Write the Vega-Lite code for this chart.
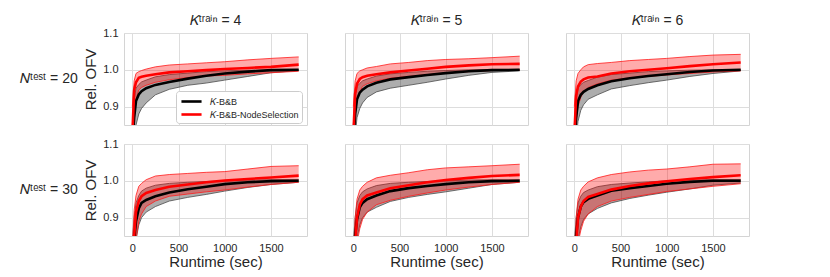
{
"$schema": "https://vega.github.io/schema/vega-lite/v6.json",
"padding": {"left": 20, "top": 14, "right": 5, "bottom": 5},
"background": "white",
"data": {"values": [
{"ntest":20,"ktrain":4,"method":"K-B&B","time":0,"mean":0.80,"lower":0.75,"upper":0.85},
{"ntest":20,"ktrain":4,"method":"K-B&B","time":20,"mean":0.87,"lower":0.80,"upper":0.92},
{"ntest":20,"ktrain":4,"method":"K-B&B","time":40,"mean":0.915,"lower":0.85,"upper":0.95},
{"ntest":20,"ktrain":4,"method":"K-B&B","time":70,"mean":0.933,"lower":0.88,"upper":0.96},
{"ntest":20,"ktrain":4,"method":"K-B&B","time":100,"mean":0.942,"lower":0.895,"upper":0.967},
{"ntest":20,"ktrain":4,"method":"K-B&B","time":150,"mean":0.95,"lower":0.91,"upper":0.972},
{"ntest":20,"ktrain":4,"method":"K-B&B","time":250,"mean":0.959,"lower":0.932,"upper":0.981},
{"ntest":20,"ktrain":4,"method":"K-B&B","time":400,"mean":0.967,"lower":0.947,"upper":0.987},
{"ntest":20,"ktrain":4,"method":"K-B&B","time":600,"mean":0.976,"lower":0.958,"upper":0.991},
{"ntest":20,"ktrain":4,"method":"K-B&B","time":800,"mean":0.984,"lower":0.964,"upper":0.995},
{"ntest":20,"ktrain":4,"method":"K-B&B","time":1000,"mean":0.99,"lower":0.972,"upper":0.997},
{"ntest":20,"ktrain":4,"method":"K-B&B","time":1250,"mean":0.995,"lower":0.982,"upper":0.999},
{"ntest":20,"ktrain":4,"method":"K-B&B","time":1500,"mean":0.999,"lower":0.992,"upper":1.0},
{"ntest":20,"ktrain":4,"method":"K-B&B","time":1800,"mean":1.0,"lower":0.998,"upper":1.0},
{"ntest":20,"ktrain":4,"method":"K-B&B-NodeSelection","time":0,"mean":0.82,"lower":0.76,"upper":0.90},
{"ntest":20,"ktrain":4,"method":"K-B&B-NodeSelection","time":20,"mean":0.945,"lower":0.88,"upper":0.97},
{"ntest":20,"ktrain":4,"method":"K-B&B-NodeSelection","time":40,"mean":0.966,"lower":0.92,"upper":0.99},
{"ntest":20,"ktrain":4,"method":"K-B&B-NodeSelection","time":70,"mean":0.978,"lower":0.945,"upper":0.995},
{"ntest":20,"ktrain":4,"method":"K-B&B-NodeSelection","time":100,"mean":0.981,"lower":0.952,"upper":0.998},
{"ntest":20,"ktrain":4,"method":"K-B&B-NodeSelection","time":150,"mean":0.984,"lower":0.958,"upper":1.002},
{"ntest":20,"ktrain":4,"method":"K-B&B-NodeSelection","time":250,"mean":0.988,"lower":0.966,"upper":1.008},
{"ntest":20,"ktrain":4,"method":"K-B&B-NodeSelection","time":400,"mean":0.993,"lower":0.973,"upper":1.013},
{"ntest":20,"ktrain":4,"method":"K-B&B-NodeSelection","time":600,"mean":0.996,"lower":0.979,"upper":1.016},
{"ntest":20,"ktrain":4,"method":"K-B&B-NodeSelection","time":800,"mean":0.999,"lower":0.983,"upper":1.019},
{"ntest":20,"ktrain":4,"method":"K-B&B-NodeSelection","time":1000,"mean":1.002,"lower":0.985,"upper":1.022},
{"ntest":20,"ktrain":4,"method":"K-B&B-NodeSelection","time":1250,"mean":1.005,"lower":0.989,"upper":1.027},
{"ntest":20,"ktrain":4,"method":"K-B&B-NodeSelection","time":1500,"mean":1.008,"lower":0.992,"upper":1.031},
{"ntest":20,"ktrain":4,"method":"K-B&B-NodeSelection","time":1800,"mean":1.014,"lower":0.996,"upper":1.035},

{"ntest":20,"ktrain":5,"method":"K-B&B","time":0,"mean":0.80,"lower":0.75,"upper":0.85},
{"ntest":20,"ktrain":5,"method":"K-B&B","time":20,"mean":0.88,"lower":0.82,"upper":0.93},
{"ntest":20,"ktrain":5,"method":"K-B&B","time":40,"mean":0.92,"lower":0.87,"upper":0.955},
{"ntest":20,"ktrain":5,"method":"K-B&B","time":70,"mean":0.938,"lower":0.895,"upper":0.963},
{"ntest":20,"ktrain":5,"method":"K-B&B","time":100,"mean":0.946,"lower":0.91,"upper":0.97},
{"ntest":20,"ktrain":5,"method":"K-B&B","time":150,"mean":0.955,"lower":0.925,"upper":0.975},
{"ntest":20,"ktrain":5,"method":"K-B&B","time":250,"mean":0.965,"lower":0.94,"upper":0.983},
{"ntest":20,"ktrain":5,"method":"K-B&B","time":400,"mean":0.974,"lower":0.95,"upper":0.989},
{"ntest":20,"ktrain":5,"method":"K-B&B","time":600,"mean":0.98,"lower":0.958,"upper":0.993},
{"ntest":20,"ktrain":5,"method":"K-B&B","time":800,"mean":0.986,"lower":0.966,"upper":0.996},
{"ntest":20,"ktrain":5,"method":"K-B&B","time":1000,"mean":0.991,"lower":0.975,"upper":0.998},
{"ntest":20,"ktrain":5,"method":"K-B&B","time":1250,"mean":0.996,"lower":0.985,"upper":1.0},
{"ntest":20,"ktrain":5,"method":"K-B&B","time":1500,"mean":0.999,"lower":0.993,"upper":1.001},
{"ntest":20,"ktrain":5,"method":"K-B&B","time":1800,"mean":1.0,"lower":0.997,"upper":1.001},
{"ntest":20,"ktrain":5,"method":"K-B&B-NodeSelection","time":0,"mean":0.82,"lower":0.76,"upper":0.90},
{"ntest":20,"ktrain":5,"method":"K-B&B-NodeSelection","time":20,"mean":0.935,"lower":0.88,"upper":0.97},
{"ntest":20,"ktrain":5,"method":"K-B&B-NodeSelection","time":40,"mean":0.962,"lower":0.92,"upper":0.99},
{"ntest":20,"ktrain":5,"method":"K-B&B-NodeSelection","time":70,"mean":0.975,"lower":0.94,"upper":0.997},
{"ntest":20,"ktrain":5,"method":"K-B&B-NodeSelection","time":100,"mean":0.98,"lower":0.955,"upper":1.0},
{"ntest":20,"ktrain":5,"method":"K-B&B-NodeSelection","time":150,"mean":0.984,"lower":0.962,"upper":1.005},
{"ntest":20,"ktrain":5,"method":"K-B&B-NodeSelection","time":250,"mean":0.988,"lower":0.97,"upper":1.009},
{"ntest":20,"ktrain":5,"method":"K-B&B-NodeSelection","time":400,"mean":0.993,"lower":0.977,"upper":1.016},
{"ntest":20,"ktrain":5,"method":"K-B&B-NodeSelection","time":600,"mean":0.998,"lower":0.982,"upper":1.02},
{"ntest":20,"ktrain":5,"method":"K-B&B-NodeSelection","time":800,"mean":1.003,"lower":0.987,"upper":1.025},
{"ntest":20,"ktrain":5,"method":"K-B&B-NodeSelection","time":1000,"mean":1.008,"lower":0.991,"upper":1.028},
{"ntest":20,"ktrain":5,"method":"K-B&B-NodeSelection","time":1250,"mean":1.012,"lower":0.995,"upper":1.03},
{"ntest":20,"ktrain":5,"method":"K-B&B-NodeSelection","time":1500,"mean":1.015,"lower":0.998,"upper":1.033},
{"ntest":20,"ktrain":5,"method":"K-B&B-NodeSelection","time":1800,"mean":1.016,"lower":0.999,"upper":1.037},

{"ntest":20,"ktrain":6,"method":"K-B&B","time":0,"mean":0.80,"lower":0.75,"upper":0.85},
{"ntest":20,"ktrain":6,"method":"K-B&B","time":20,"mean":0.87,"lower":0.81,"upper":0.92},
{"ntest":20,"ktrain":6,"method":"K-B&B","time":40,"mean":0.915,"lower":0.86,"upper":0.95},
{"ntest":20,"ktrain":6,"method":"K-B&B","time":70,"mean":0.932,"lower":0.89,"upper":0.96},
{"ntest":20,"ktrain":6,"method":"K-B&B","time":100,"mean":0.94,"lower":0.905,"upper":0.966},
{"ntest":20,"ktrain":6,"method":"K-B&B","time":150,"mean":0.948,"lower":0.92,"upper":0.971},
{"ntest":20,"ktrain":6,"method":"K-B&B","time":250,"mean":0.958,"lower":0.932,"upper":0.98},
{"ntest":20,"ktrain":6,"method":"K-B&B","time":400,"mean":0.969,"lower":0.948,"upper":0.987},
{"ntest":20,"ktrain":6,"method":"K-B&B","time":600,"mean":0.977,"lower":0.957,"upper":0.991},
{"ntest":20,"ktrain":6,"method":"K-B&B","time":800,"mean":0.983,"lower":0.965,"upper":0.995},
{"ntest":20,"ktrain":6,"method":"K-B&B","time":1000,"mean":0.988,"lower":0.972,"upper":0.997},
{"ntest":20,"ktrain":6,"method":"K-B&B","time":1250,"mean":0.994,"lower":0.982,"upper":0.999},
{"ntest":20,"ktrain":6,"method":"K-B&B","time":1500,"mean":0.998,"lower":0.99,"upper":1.0},
{"ntest":20,"ktrain":6,"method":"K-B&B","time":1800,"mean":1.0,"lower":0.997,"upper":1.0},
{"ntest":20,"ktrain":6,"method":"K-B&B-NodeSelection","time":0,"mean":0.82,"lower":0.76,"upper":0.90},
{"ntest":20,"ktrain":6,"method":"K-B&B-NodeSelection","time":20,"mean":0.93,"lower":0.86,"upper":0.97},
{"ntest":20,"ktrain":6,"method":"K-B&B-NodeSelection","time":40,"mean":0.955,"lower":0.90,"upper":0.99},
{"ntest":20,"ktrain":6,"method":"K-B&B-NodeSelection","time":70,"mean":0.968,"lower":0.925,"upper":1.0},
{"ntest":20,"ktrain":6,"method":"K-B&B-NodeSelection","time":100,"mean":0.974,"lower":0.94,"upper":1.008},
{"ntest":20,"ktrain":6,"method":"K-B&B-NodeSelection","time":150,"mean":0.979,"lower":0.952,"upper":1.014},
{"ntest":20,"ktrain":6,"method":"K-B&B-NodeSelection","time":250,"mean":0.982,"lower":0.962,"upper":1.017},
{"ntest":20,"ktrain":6,"method":"K-B&B-NodeSelection","time":400,"mean":0.99,"lower":0.972,"upper":1.02},
{"ntest":20,"ktrain":6,"method":"K-B&B-NodeSelection","time":600,"mean":0.996,"lower":0.978,"upper":1.025},
{"ntest":20,"ktrain":6,"method":"K-B&B-NodeSelection","time":800,"mean":1.0,"lower":0.982,"upper":1.028},
{"ntest":20,"ktrain":6,"method":"K-B&B-NodeSelection","time":1000,"mean":1.004,"lower":0.986,"upper":1.031},
{"ntest":20,"ktrain":6,"method":"K-B&B-NodeSelection","time":1250,"mean":1.01,"lower":0.99,"upper":1.036},
{"ntest":20,"ktrain":6,"method":"K-B&B-NodeSelection","time":1500,"mean":1.015,"lower":0.994,"upper":1.04},
{"ntest":20,"ktrain":6,"method":"K-B&B-NodeSelection","time":1800,"mean":1.02,"lower":0.997,"upper":1.042},

{"ntest":30,"ktrain":4,"method":"K-B&B","time":0,"mean":0.78,"lower":0.74,"upper":0.83},
{"ntest":30,"ktrain":4,"method":"K-B&B","time":20,"mean":0.84,"lower":0.79,"upper":0.90},
{"ntest":30,"ktrain":4,"method":"K-B&B","time":40,"mean":0.89,"lower":0.84,"upper":0.94},
{"ntest":30,"ktrain":4,"method":"K-B&B","time":70,"mean":0.925,"lower":0.88,"upper":0.96},
{"ntest":30,"ktrain":4,"method":"K-B&B","time":100,"mean":0.94,"lower":0.90,"upper":0.972},
{"ntest":30,"ktrain":4,"method":"K-B&B","time":150,"mean":0.948,"lower":0.915,"upper":0.98},
{"ntest":30,"ktrain":4,"method":"K-B&B","time":250,"mean":0.958,"lower":0.93,"upper":0.988},
{"ntest":30,"ktrain":4,"method":"K-B&B","time":400,"mean":0.968,"lower":0.945,"upper":0.993},
{"ntest":30,"ktrain":4,"method":"K-B&B","time":600,"mean":0.977,"lower":0.955,"upper":0.996},
{"ntest":30,"ktrain":4,"method":"K-B&B","time":800,"mean":0.984,"lower":0.963,"upper":0.998},
{"ntest":30,"ktrain":4,"method":"K-B&B","time":1000,"mean":0.991,"lower":0.972,"upper":1.0},
{"ntest":30,"ktrain":4,"method":"K-B&B","time":1250,"mean":0.996,"lower":0.982,"upper":1.002},
{"ntest":30,"ktrain":4,"method":"K-B&B","time":1500,"mean":0.999,"lower":0.99,"upper":1.003},
{"ntest":30,"ktrain":4,"method":"K-B&B","time":1800,"mean":1.0,"lower":0.996,"upper":1.003},
{"ntest":30,"ktrain":4,"method":"K-B&B-NodeSelection","time":0,"mean":0.76,"lower":0.72,"upper":0.82},
{"ntest":30,"ktrain":4,"method":"K-B&B-NodeSelection","time":20,"mean":0.85,"lower":0.78,"upper":0.92},
{"ntest":30,"ktrain":4,"method":"K-B&B-NodeSelection","time":40,"mean":0.915,"lower":0.84,"upper":0.96},
{"ntest":30,"ktrain":4,"method":"K-B&B-NodeSelection","time":70,"mean":0.945,"lower":0.89,"upper":0.985},
{"ntest":30,"ktrain":4,"method":"K-B&B-NodeSelection","time":100,"mean":0.958,"lower":0.91,"upper":0.993},
{"ntest":30,"ktrain":4,"method":"K-B&B-NodeSelection","time":150,"mean":0.967,"lower":0.93,"upper":1.003},
{"ntest":30,"ktrain":4,"method":"K-B&B-NodeSelection","time":250,"mean":0.975,"lower":0.945,"upper":1.013},
{"ntest":30,"ktrain":4,"method":"K-B&B-NodeSelection","time":400,"mean":0.984,"lower":0.958,"upper":1.017},
{"ntest":30,"ktrain":4,"method":"K-B&B-NodeSelection","time":600,"mean":0.99,"lower":0.964,"upper":1.02},
{"ntest":30,"ktrain":4,"method":"K-B&B-NodeSelection","time":800,"mean":0.996,"lower":0.97,"upper":1.023},
{"ntest":30,"ktrain":4,"method":"K-B&B-NodeSelection","time":1000,"mean":1.001,"lower":0.975,"upper":1.025},
{"ntest":30,"ktrain":4,"method":"K-B&B-NodeSelection","time":1250,"mean":1.005,"lower":0.983,"upper":1.032},
{"ntest":30,"ktrain":4,"method":"K-B&B-NodeSelection","time":1500,"mean":1.009,"lower":0.99,"upper":1.039},
{"ntest":30,"ktrain":4,"method":"K-B&B-NodeSelection","time":1800,"mean":1.014,"lower":0.996,"upper":1.041},

{"ntest":30,"ktrain":5,"method":"K-B&B","time":0,"mean":0.78,"lower":0.74,"upper":0.83},
{"ntest":30,"ktrain":5,"method":"K-B&B","time":20,"mean":0.85,"lower":0.80,"upper":0.90},
{"ntest":30,"ktrain":5,"method":"K-B&B","time":40,"mean":0.895,"lower":0.845,"upper":0.94},
{"ntest":30,"ktrain":5,"method":"K-B&B","time":70,"mean":0.928,"lower":0.88,"upper":0.96},
{"ntest":30,"ktrain":5,"method":"K-B&B","time":100,"mean":0.94,"lower":0.90,"upper":0.97},
{"ntest":30,"ktrain":5,"method":"K-B&B","time":150,"mean":0.95,"lower":0.915,"upper":0.978},
{"ntest":30,"ktrain":5,"method":"K-B&B","time":250,"mean":0.96,"lower":0.928,"upper":0.987},
{"ntest":30,"ktrain":5,"method":"K-B&B","time":400,"mean":0.972,"lower":0.944,"upper":0.993},
{"ntest":30,"ktrain":5,"method":"K-B&B","time":600,"mean":0.98,"lower":0.955,"upper":0.996},
{"ntest":30,"ktrain":5,"method":"K-B&B","time":800,"mean":0.986,"lower":0.963,"upper":0.998},
{"ntest":30,"ktrain":5,"method":"K-B&B","time":1000,"mean":0.991,"lower":0.97,"upper":1.0},
{"ntest":30,"ktrain":5,"method":"K-B&B","time":1250,"mean":0.996,"lower":0.98,"upper":1.002},
{"ntest":30,"ktrain":5,"method":"K-B&B","time":1500,"mean":0.999,"lower":0.99,"upper":1.003},
{"ntest":30,"ktrain":5,"method":"K-B&B","time":1800,"mean":1.0,"lower":0.996,"upper":1.003},
{"ntest":30,"ktrain":5,"method":"K-B&B-NodeSelection","time":0,"mean":0.75,"lower":0.71,"upper":0.80},
{"ntest":30,"ktrain":5,"method":"K-B&B-NodeSelection","time":20,"mean":0.83,"lower":0.77,"upper":0.90},
{"ntest":30,"ktrain":5,"method":"K-B&B-NodeSelection","time":40,"mean":0.90,"lower":0.83,"upper":0.95},
{"ntest":30,"ktrain":5,"method":"K-B&B-NodeSelection","time":70,"mean":0.935,"lower":0.87,"upper":0.975},
{"ntest":30,"ktrain":5,"method":"K-B&B-NodeSelection","time":100,"mean":0.95,"lower":0.895,"upper":0.985},
{"ntest":30,"ktrain":5,"method":"K-B&B-NodeSelection","time":150,"mean":0.96,"lower":0.915,"upper":0.996},
{"ntest":30,"ktrain":5,"method":"K-B&B-NodeSelection","time":250,"mean":0.968,"lower":0.935,"upper":1.008},
{"ntest":30,"ktrain":5,"method":"K-B&B-NodeSelection","time":400,"mean":0.98,"lower":0.947,"upper":1.015},
{"ntest":30,"ktrain":5,"method":"K-B&B-NodeSelection","time":600,"mean":0.988,"lower":0.958,"upper":1.022},
{"ntest":30,"ktrain":5,"method":"K-B&B-NodeSelection","time":800,"mean":0.996,"lower":0.967,"upper":1.03},
{"ntest":30,"ktrain":5,"method":"K-B&B-NodeSelection","time":1000,"mean":1.002,"lower":0.975,"upper":1.035},
{"ntest":30,"ktrain":5,"method":"K-B&B-NodeSelection","time":1250,"mean":1.008,"lower":0.983,"upper":1.038},
{"ntest":30,"ktrain":5,"method":"K-B&B-NodeSelection","time":1500,"mean":1.013,"lower":0.99,"upper":1.041},
{"ntest":30,"ktrain":5,"method":"K-B&B-NodeSelection","time":1800,"mean":1.016,"lower":0.996,"upper":1.045},

{"ntest":30,"ktrain":6,"method":"K-B&B","time":0,"mean":0.78,"lower":0.74,"upper":0.83},
{"ntest":30,"ktrain":6,"method":"K-B&B","time":20,"mean":0.85,"lower":0.79,"upper":0.90},
{"ntest":30,"ktrain":6,"method":"K-B&B","time":40,"mean":0.90,"lower":0.84,"upper":0.94},
{"ntest":30,"ktrain":6,"method":"K-B&B","time":70,"mean":0.93,"lower":0.875,"upper":0.958},
{"ntest":30,"ktrain":6,"method":"K-B&B","time":100,"mean":0.942,"lower":0.895,"upper":0.968},
{"ntest":30,"ktrain":6,"method":"K-B&B","time":150,"mean":0.951,"lower":0.91,"upper":0.975},
{"ntest":30,"ktrain":6,"method":"K-B&B","time":250,"mean":0.96,"lower":0.925,"upper":0.984},
{"ntest":30,"ktrain":6,"method":"K-B&B","time":400,"mean":0.973,"lower":0.94,"upper":0.99},
{"ntest":30,"ktrain":6,"method":"K-B&B","time":600,"mean":0.98,"lower":0.952,"upper":0.994},
{"ntest":30,"ktrain":6,"method":"K-B&B","time":800,"mean":0.986,"lower":0.961,"upper":0.997},
{"ntest":30,"ktrain":6,"method":"K-B&B","time":1000,"mean":0.992,"lower":0.969,"upper":1.0},
{"ntest":30,"ktrain":6,"method":"K-B&B","time":1250,"mean":0.997,"lower":0.978,"upper":1.002},
{"ntest":30,"ktrain":6,"method":"K-B&B","time":1500,"mean":1.0,"lower":0.988,"upper":1.003},
{"ntest":30,"ktrain":6,"method":"K-B&B","time":1800,"mean":1.0,"lower":0.994,"upper":1.003},
{"ntest":30,"ktrain":6,"method":"K-B&B-NodeSelection","time":0,"mean":0.75,"lower":0.71,"upper":0.80},
{"ntest":30,"ktrain":6,"method":"K-B&B-NodeSelection","time":20,"mean":0.83,"lower":0.77,"upper":0.90},
{"ntest":30,"ktrain":6,"method":"K-B&B-NodeSelection","time":40,"mean":0.90,"lower":0.83,"upper":0.95},
{"ntest":30,"ktrain":6,"method":"K-B&B-NodeSelection","time":70,"mean":0.93,"lower":0.865,"upper":0.975},
{"ntest":30,"ktrain":6,"method":"K-B&B-NodeSelection","time":100,"mean":0.945,"lower":0.89,"upper":0.985},
{"ntest":30,"ktrain":6,"method":"K-B&B-NodeSelection","time":150,"mean":0.956,"lower":0.91,"upper":0.997},
{"ntest":30,"ktrain":6,"method":"K-B&B-NodeSelection","time":250,"mean":0.964,"lower":0.93,"upper":1.008},
{"ntest":30,"ktrain":6,"method":"K-B&B-NodeSelection","time":400,"mean":0.976,"lower":0.945,"upper":1.017},
{"ntest":30,"ktrain":6,"method":"K-B&B-NodeSelection","time":600,"mean":0.986,"lower":0.955,"upper":1.024},
{"ntest":30,"ktrain":6,"method":"K-B&B-NodeSelection","time":800,"mean":0.993,"lower":0.963,"upper":1.029},
{"ntest":30,"ktrain":6,"method":"K-B&B-NodeSelection","time":1000,"mean":0.999,"lower":0.971,"upper":1.032},
{"ntest":30,"ktrain":6,"method":"K-B&B-NodeSelection","time":1250,"mean":1.005,"lower":0.978,"upper":1.038},
{"ntest":30,"ktrain":6,"method":"K-B&B-NodeSelection","time":1500,"mean":1.01,"lower":0.985,"upper":1.045},
{"ntest":30,"ktrain":6,"method":"K-B&B-NodeSelection","time":1800,"mean":1.015,"lower":0.992,"upper":1.046}
]},
"facet": {
  "row": {"field": "ntest", "type": "ordinal", "title": null,
    "header": {"labelOrient": "left", "labelAngle": 0, "labelAlign": "left", "labelExpr": "'𝑁ᵗᵉˢᵗ = ' + datum.value", "labelFontSize": 14, "labelPadding": 6, "labelColor": "#262626"}},
  "column": {"field": "ktrain", "type": "ordinal", "title": null,
    "header": {"labelExpr": "'𝐾ᵗʳᵃⁱⁿ = ' + datum.value", "labelFontSize": 14, "labelPadding": 4, "labelColor": "#262626"}}
},
"spacing": {"row": 17, "column": 36},
"spec": {
  "width": 183,
  "height": 92,
  "encoding": {
    "x": {"field": "time", "type": "quantitative",
      "scale": {"domain": [-90, 1890], "nice": false, "zero": false},
      "axis": {"values": [0, 500, 1000, 1500], "format": "d", "title": "Runtime (sec)", "titlePadding": 1}},
    "y": {"type": "quantitative",
      "scale": {"domain": [0.85, 1.1], "nice": false, "zero": false},
      "axis": {"values": [0.9, 1.0, 1.1], "format": ".1f", "title": "Rel. OFV"}}
  },
  "layer": [
    {"transform": [{"filter": "datum.method === 'K-B&B'"}],
     "mark": {"type": "area", "clip": true, "color": "#000000", "opacity": 0.32},
     "encoding": {"y": {"field": "lower", "type": "quantitative", "stack": null}, "y2": {"field": "upper"}}},
    {"transform": [{"filter": "datum.method === 'K-B&B'"}],
     "mark": {"type": "line", "clip": true, "color": "#4a4a4a", "strokeWidth": 0.8},
     "encoding": {"y": {"field": "lower", "type": "quantitative"}}},
    {"transform": [{"filter": "datum.method === 'K-B&B'"}],
     "mark": {"type": "line", "clip": true, "color": "#4a4a4a", "strokeWidth": 0.8},
     "encoding": {"y": {"field": "upper", "type": "quantitative"}}},
    {"transform": [{"filter": "datum.method === 'K-B&B-NodeSelection'"}],
     "mark": {"type": "area", "clip": true, "color": "#ff0000", "opacity": 0.33},
     "encoding": {"y": {"field": "lower", "type": "quantitative", "stack": null}, "y2": {"field": "upper"}}},
    {"transform": [{"filter": "datum.method === 'K-B&B-NodeSelection'"}],
     "mark": {"type": "line", "clip": true, "color": "#ff1a1a", "strokeWidth": 0.8},
     "encoding": {"y": {"field": "lower", "type": "quantitative"}}},
    {"transform": [{"filter": "datum.method === 'K-B&B-NodeSelection'"}],
     "mark": {"type": "line", "clip": true, "color": "#ff1a1a", "strokeWidth": 0.8},
     "encoding": {"y": {"field": "upper", "type": "quantitative"}}},
    {"mark": {"type": "line", "clip": true, "strokeWidth": 2.6},
     "encoding": {
       "y": {"field": "mean", "type": "quantitative"},
       "color": {"field": "method", "type": "nominal",
         "scale": {"domain": ["K-B&B", "K-B&B-NodeSelection"], "range": ["#000000", "#ff0000"]},
         "legend": {"orient": "none", "legendX": 52, "legendY": 58, "title": null,
           "symbolType": "M-1.7,0H1.7", "symbolSize": 140, "symbolStrokeWidth": 2.6, "symbolOffset": 5,
           "labelFontSize": 9, "labelColor": "#262626", "labelOffset": 11,
           "labelExpr": "replace(datum.label, 'K', '𝐾')",
           "fillColor": "white", "strokeColor": "#cccccc", "cornerRadius": 3,
           "padding": 3, "rowPadding": 0}}
     }}
  ]
},
"config": {
  "font": "Liberation Sans",
  "view": {"stroke": "#d4d4d4"},
  "axis": {"domain": false, "ticks": false, "gridColor": "#dddddd", "labelColor": "#262626",
    "labelFontSize": 11, "titleFontSize": 15, "titleFontWeight": "normal", "titleColor": "#262626", "labelPadding": 5, "titlePadding": 4}
}
}
